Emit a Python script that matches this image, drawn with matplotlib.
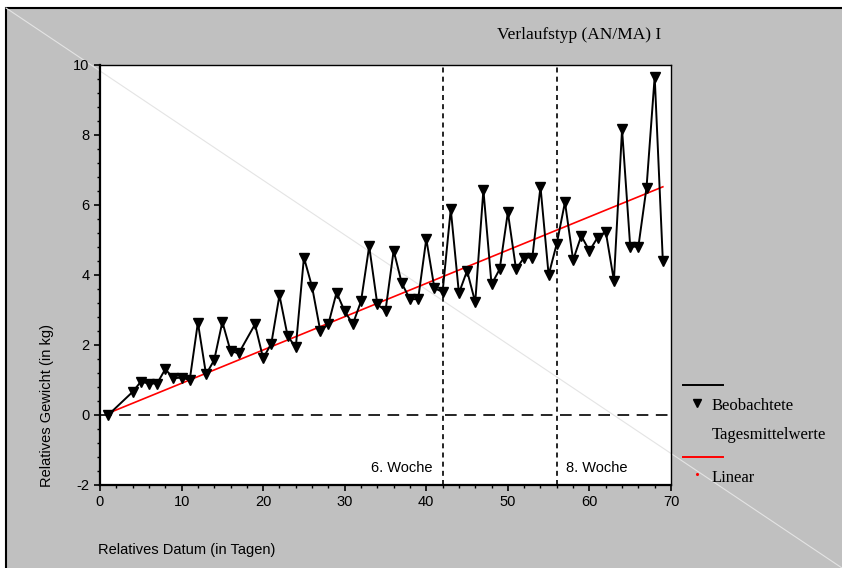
import numpy as np
import matplotlib
matplotlib.use("Agg")
import matplotlib.pyplot as plt
from matplotlib.patches import Rectangle
from matplotlib.lines import Line2D
from matplotlib.ticker import MultipleLocator

plt.rcParams["axes.unicode_minus"] = False

# daily means of relative weight (kg)
tage = [1, 4, 5, 6, 7, 8, 9, 10, 11, 12, 13, 14, 15, 16, 17, 19, 20, 21, 22, 23,
        24, 25, 26, 27, 28, 29, 30, 31, 32, 33, 34, 35, 36, 37, 38, 39, 40, 41, 42,
        43, 44, 45, 46, 47, 48, 49, 50, 51, 52, 53, 54, 55, 56, 57, 58, 59, 60, 61,
        62, 63, 64, 65, 66, 67, 68, 69]
gewicht = [0.0, 0.66, 0.95, 0.9, 0.9, 1.31, 1.05, 1.07, 1.0, 2.64, 1.16, 1.57, 2.66,
           1.83, 1.76, 2.59, 1.62, 2.04, 3.42, 2.26, 1.93, 4.5, 3.66, 2.41, 2.6, 3.5,
           2.96, 2.6, 3.25, 4.82, 3.16, 2.98, 4.7, 3.76, 3.31, 3.31, 5.03, 3.62, 3.52,
           5.88, 3.48, 4.12, 3.22, 6.43, 3.73, 4.17, 5.79, 4.17, 4.5, 4.5, 6.52, 4.0,
           4.9, 6.08, 4.43, 5.12, 4.69, 5.07, 5.24, 3.84, 8.16, 4.81, 4.81, 6.5, 9.67,
           4.4]
# linear trend, start and end
trend_tage = [1, 69]
trend_wert = [0.05, 6.52]
wochen = [42, 56]
wochen_text = ["6. Woche", "8. Woche"]

W, H = 842, 568
fig = plt.figure(figsize=(W / 100, H / 100), dpi=100, facecolor="white")

# grey panel with black frame on top/left
fig.add_artist(Rectangle((6 / W, -0.1), 1.2, 1 - 8 / H + 0.1, transform=fig.transFigure,
                         facecolor="#c0c0c0", edgecolor="black", linewidth=1.5, zorder=-5))

ax = fig.add_axes([100 / W, 1 - 485 / H, 571 / W, 420 / H])
ax.set_facecolor("white")

# faint diagonal across the whole figure
ax.plot([6 / W, 1.0], [1 - 8 / H, 0.0], transform=fig.transFigure, clip_on=False,
        color="#e4e4e4", linewidth=0.8, zorder=0.5)

# zero line and week markers
ax.axhline(0, color="black", linewidth=1.2, dashes=(7, 4.5), zorder=1)
for w in wochen:
    ax.axvline(w, color="black", linewidth=1.2, dashes=(3, 2.5), zorder=1)
ax.text(wochen[0] - 1.2, -1.52, wochen_text[0], ha="right", va="center",
        fontsize=10.5, family="Liberation Sans")
ax.text(wochen[1] + 1.1, -1.52, wochen_text[1], ha="left", va="center",
        fontsize=10.5, family="Liberation Sans")

ax.plot(tage, gewicht, color="black", linewidth=1.4, marker="v", markersize=6.5,
        markerfacecolor="black", markeredgecolor="black", zorder=3)
ax.plot(trend_tage, trend_wert, color="red", linewidth=1.2, zorder=2)

ax.set_xlim(0, 70)
ax.set_ylim(-2, 10)
ax.xaxis.set_major_locator(MultipleLocator(10))
ax.xaxis.set_minor_locator(MultipleLocator(2))
ax.yaxis.set_major_locator(MultipleLocator(2))
ax.yaxis.set_minor_locator(MultipleLocator(0.4))
ax.tick_params(which="major", length=4, width=1.2, labelsize=10.5, direction="out")
ax.tick_params(which="minor", length=2.5, width=1.0, direction="out")
ax.tick_params(axis="x", pad=3)
for lab in ax.get_xticklabels() + ax.get_yticklabels():
    lab.set_family("Liberation Sans")
for side in ["left", "bottom"]:
    ax.spines[side].set_linewidth(1.6)
for side in ["top", "right"]:
    ax.spines[side].set_linewidth(1.0)

fig.text(98 / W, 1 - 550 / H, "Relatives Datum (in Tagen)", ha="left", va="center",
         fontsize=10.5, family="Liberation Sans")
fig.text(47 / W, 1 - 487 / H, "Relatives Gewicht (in kg)", ha="center", va="bottom",
         rotation=90, fontsize=10.5, family="Liberation Sans")
fig.text(497 / W, 1 - 35 / H, "Verlaufstyp (AN/MA) I", ha="left", va="center",
         fontsize=12.5, family="Liberation Serif")

# legend drawn by hand
fig.add_artist(Line2D([683 / W, 723 / W], [1 - 385 / H] * 2, color="black", linewidth=1.4))
fig.add_artist(Line2D([697 / W], [1 - 403 / H], marker="v", markersize=6, color="black"))
fig.text(712 / W, 1 - 406 / H, "Beobachtete", ha="left", va="center",
         fontsize=12, family="Liberation Serif")
fig.text(712 / W, 1 - 435 / H, "Tagesmittelwerte", ha="left", va="center",
         fontsize=12, family="Liberation Serif")
fig.add_artist(Line2D([683 / W, 723 / W], [1 - 457 / H] * 2, color="red", linewidth=1.4))
fig.add_artist(Line2D([697 / W], [1 - 474 / H], marker="o", markersize=1.2, color="red"))
fig.text(712 / W, 1 - 478 / H, "Linear", ha="left", va="center",
         fontsize=12, family="Liberation Serif")

fig.savefig("out.png", dpi=100)
